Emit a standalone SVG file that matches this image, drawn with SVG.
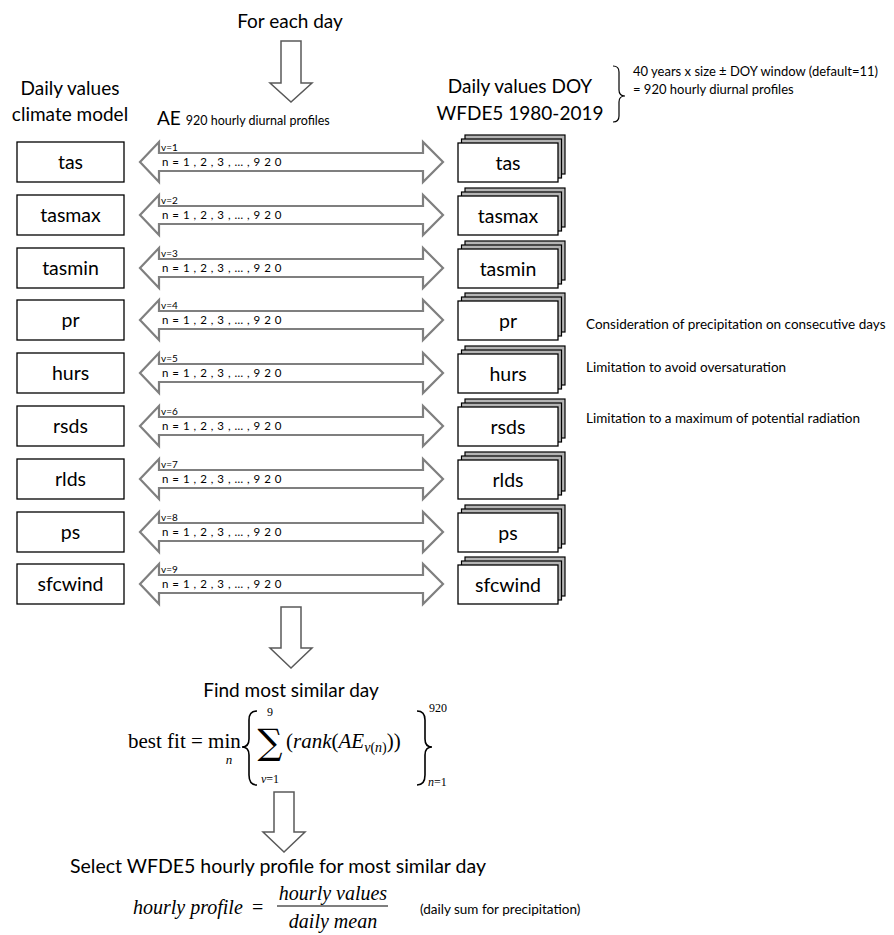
<svg xmlns="http://www.w3.org/2000/svg" width="894" height="935" viewBox="0 0 894 935">
<style>
text{font-family:Lato,"Open Sans","Liberation Sans",sans-serif;fill:#000}
.big{font-size:19px}
.lbl{font-size:19.5px;text-anchor:middle}
.note{font-size:13px}
.note2{font-size:13.5px}
.vl{font-size:10px}
.nl{font-size:11.5px;letter-spacing:0.5px}
.box{fill:#fff;stroke:#000;stroke-width:1.3}
.back{fill:#b4b4b4;stroke:#000;stroke-width:1.2}
.dbl{fill:#fff;stroke:#7f7f7f;stroke-width:2.2}
.blk{fill:#fff;stroke:#595959;stroke-width:1.5}
.br{fill:none;stroke:#000;stroke-width:1.2}
.mbr{fill:none;stroke:#000;stroke-width:1.6}
.m{font-family:"Liberation Serif","DejaVu Serif",serif}
.i{font-style:italic}
</style>
<defs>
<path id="dblarrow" class="dbl" d="M140,20 L159,0 L159,11 L423,11 L423,0 L443,20 L423,40 L423,29 L159,29 L159,40 Z"/>
<g id="stack">
<rect class="back" x="465" y="-7" width="100" height="39"/>
<rect class="back" x="461.5" y="-3" width="100" height="39"/>
<rect class="box" x="458" y="1" width="100" height="39"/>
</g>
<rect id="cmbox" class="box" x="17" y="0" width="107" height="40"/>
</defs>

<text class="big" x="290" y="28" text-anchor="middle">For each day</text>
<text class="big" x="70" y="95" text-anchor="middle">Daily values</text>
<text class="big" x="70" y="121" text-anchor="middle">climate model</text>
<text x="157" y="125"><tspan class="big">AE </tspan><tspan style="font-size:12.5px">920 hourly diurnal profiles</tspan></text>
<text class="big" x="520" y="93" text-anchor="middle">Daily values DOY</text>
<text class="big" x="520" y="120" text-anchor="middle">WFDE5 1980-2019</text>
<path class="br" d="M613,66 Q619,66 619,72 L619,90 Q619,96 625,96 Q619,96 619,102 L619,116 Q619,122 613,122"/>
<text class="note" x="633" y="76">40 years x size ± DOY window (default=11)</text>
<text class="note" x="633" y="94">= 920 hourly diurnal profiles</text>

<g id="connectors">
<path class="blk" d="M281,41 L301,41 L301,83 L312,83 L291,102 L270,83 L281,83 Z"/>
<path class="blk" d="M281,607 L301,607 L301,648 L312,648 L291,668 L270,648 L281,648 Z"/>
<path class="blk" d="M274,792 L294,792 L294,832 L305,832 L284,852 L263,832 L274,832 Z"/>
<g transform="translate(0,142)"><use href="#dblarrow"/><text class="vl" x="161" y="9">v=1</text><text class="nl" x="162" y="24">n = 1 , 2 , 3 , … , 9 2 0</text></g>
<g transform="translate(0,195)"><use href="#dblarrow"/><text class="vl" x="161" y="9">v=2</text><text class="nl" x="162" y="24">n = 1 , 2 , 3 , … , 9 2 0</text></g>
<g transform="translate(0,248)"><use href="#dblarrow"/><text class="vl" x="161" y="9">v=3</text><text class="nl" x="162" y="24">n = 1 , 2 , 3 , … , 9 2 0</text></g>
<g transform="translate(0,300)"><use href="#dblarrow"/><text class="vl" x="161" y="9">v=4</text><text class="nl" x="162" y="24">n = 1 , 2 , 3 , … , 9 2 0</text></g>
<g transform="translate(0,353)"><use href="#dblarrow"/><text class="vl" x="161" y="9">v=5</text><text class="nl" x="162" y="24">n = 1 , 2 , 3 , … , 9 2 0</text></g>
<g transform="translate(0,406)"><use href="#dblarrow"/><text class="vl" x="161" y="9">v=6</text><text class="nl" x="162" y="24">n = 1 , 2 , 3 , … , 9 2 0</text></g>
<g transform="translate(0,459)"><use href="#dblarrow"/><text class="vl" x="161" y="9">v=7</text><text class="nl" x="162" y="24">n = 1 , 2 , 3 , … , 9 2 0</text></g>
<g transform="translate(0,512)"><use href="#dblarrow"/><text class="vl" x="161" y="9">v=8</text><text class="nl" x="162" y="24">n = 1 , 2 , 3 , … , 9 2 0</text></g>
<g transform="translate(0,564)"><use href="#dblarrow"/><text class="vl" x="161" y="9">v=9</text><text class="nl" x="162" y="24">n = 1 , 2 , 3 , … , 9 2 0</text></g>
</g>

<g id="cm-tas" transform="translate(0,142)"><use href="#cmbox"/><text class="lbl" x="70.5" y="27">tas</text></g>
<g id="cm-tasmax" transform="translate(0,195)"><use href="#cmbox"/><text class="lbl" x="70.5" y="27">tasmax</text></g>
<g id="cm-tasmin" transform="translate(0,248)"><use href="#cmbox"/><text class="lbl" x="70.5" y="27">tasmin</text></g>
<g id="cm-pr" transform="translate(0,300)"><use href="#cmbox"/><text class="lbl" x="70.5" y="27">pr</text></g>
<g id="cm-hurs" transform="translate(0,353)"><use href="#cmbox"/><text class="lbl" x="70.5" y="27">hurs</text></g>
<g id="cm-rsds" transform="translate(0,406)"><use href="#cmbox"/><text class="lbl" x="70.5" y="27">rsds</text></g>
<g id="cm-rlds" transform="translate(0,459)"><use href="#cmbox"/><text class="lbl" x="70.5" y="27">rlds</text></g>
<g id="cm-ps" transform="translate(0,512)"><use href="#cmbox"/><text class="lbl" x="70.5" y="27">ps</text></g>
<g id="cm-sfcwind" transform="translate(0,564)"><use href="#cmbox"/><text class="lbl" x="70.5" y="27">sfcwind</text></g>

<g id="wf-tas" transform="translate(0,142)"><use href="#stack"/><text class="lbl" x="508" y="28">tas</text></g>
<g id="wf-tasmax" transform="translate(0,195)"><use href="#stack"/><text class="lbl" x="508" y="28">tasmax</text></g>
<g id="wf-tasmin" transform="translate(0,248)"><use href="#stack"/><text class="lbl" x="508" y="28">tasmin</text></g>
<g id="wf-pr" transform="translate(0,300)"><use href="#stack"/><text class="lbl" x="508" y="28">pr</text></g>
<g id="wf-hurs" transform="translate(0,353)"><use href="#stack"/><text class="lbl" x="508" y="28">hurs</text></g>
<g id="wf-rsds" transform="translate(0,406)"><use href="#stack"/><text class="lbl" x="508" y="28">rsds</text></g>
<g id="wf-rlds" transform="translate(0,459)"><use href="#stack"/><text class="lbl" x="508" y="28">rlds</text></g>
<g id="wf-ps" transform="translate(0,512)"><use href="#stack"/><text class="lbl" x="508" y="28">ps</text></g>
<g id="wf-sfcwind" transform="translate(0,564)"><use href="#stack"/><text class="lbl" x="508" y="28">sfcwind</text></g>

<text class="note2" x="586" y="329">Consideration of precipitation on consecutive days</text>
<text class="note2" x="586" y="372">Limitation to avoid oversaturation</text>
<text class="note2" x="586" y="423">Limitation to a maximum of potential radiation</text>

<text class="big" x="291" y="697" text-anchor="middle">Find most similar day</text>
<g id="formula-bestfit">
<text class="m" x="128" y="748" style="font-size:21px">best fit = min</text>
<text class="m i" x="229" y="764" style="font-size:13px" text-anchor="middle">n</text>
<path class="mbr" d="M257,711 Q249,711 249,720 L249,739 Q249,747 242,747 Q249,747 249,755 L249,775 Q249,785 257,785"/>
<text class="m" x="270" y="716" style="font-size:12px" text-anchor="middle">9</text>
<text x="270" y="754" style="font-family:'DejaVu Serif',serif;font-size:35px" text-anchor="middle">∑</text>
<text class="m" x="270" y="783" style="font-size:12px" text-anchor="middle"><tspan class="i">v</tspan>=1</text>
<text class="m" x="286" y="748" style="font-size:21px">(<tspan class="i">rank</tspan>(<tspan class="i">AE</tspan><tspan class="i" style="font-size:14px" dy="4">v</tspan><tspan style="font-size:14px">(</tspan><tspan class="i" style="font-size:14px">n</tspan><tspan style="font-size:14px">)</tspan><tspan dy="-4">))</tspan></text>
<path class="mbr" d="M417,711 Q425,711 425,720 L425,739 Q425,747 432,747 Q425,747 425,755 L425,775 Q425,785 417,785"/>
<text class="m" x="429" y="712" style="font-size:12px">920</text>
<text class="m" x="428" y="786" style="font-size:12px"><tspan class="i">n</tspan>=1</text>
</g>

<text class="big" x="278" y="873" text-anchor="middle" style="font-size:19.5px">Select WFDE5 hourly profile for most similar day</text>
<g id="formula-profile">
<text class="m i" x="133" y="914" style="font-size:20px">hourly profile</text>
<text class="m" x="252" y="914" style="font-size:20px">=</text>
<text class="m i" x="333" y="900" style="font-size:20px" text-anchor="middle">hourly values</text>
<line x1="277" y1="906" x2="388" y2="906" stroke="#000" stroke-width="1.2"/>
<text class="m i" x="333" y="928" style="font-size:20px" text-anchor="middle">daily mean</text>
<text class="note2" x="420" y="914">(daily sum for precipitation)</text>
</g>
</svg>
